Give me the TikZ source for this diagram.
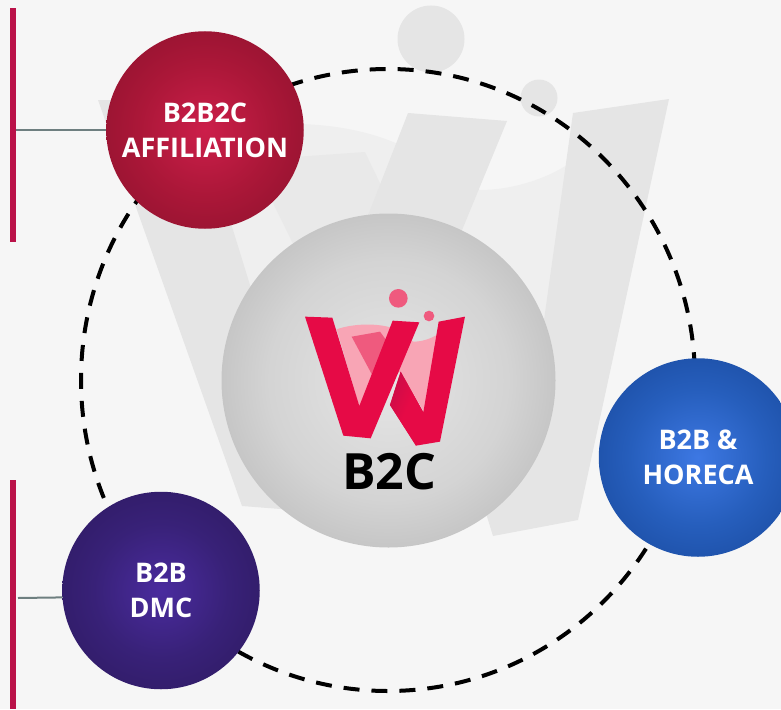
\documentclass[tikz,border=0pt]{standalone}
\usepackage{fontspec}
\setmainfont{Open Sans}
\pgfdeclareradialshading{redball}{\pgfpoint{0bp}{0bp}}{rgb(0bp)=(.80,.12,.29);rgb(17bp)=(.67,.09,.22);rgb(33bp)=(.56,.07,.18);rgb(50bp)=(.56,.07,.18)}
\pgfdeclareradialshading{blueball}{\pgfpoint{0bp}{0bp}}{rgb(0bp)=(.24,.47,.89);rgb(17bp)=(.15,.37,.74);rgb(33bp)=(.10,.29,.62);rgb(50bp)=(.10,.29,.62)}
\pgfdeclareradialshading{purpleball}{\pgfpoint{0bp}{0bp}}{rgb(0bp)=(.29,.17,.62);rgb(17bp)=(.22,.13,.47);rgb(33bp)=(.18,.10,.38);rgb(50bp)=(.18,.10,.38)}
\pgfdeclareradialshading{greyball}{\pgfpoint{0bp}{0bp}}{rgb(0bp)=(.90,.90,.90);rgb(18bp)=(.83,.83,.83);rgb(35bp)=(.70,.70,.70);rgb(50bp)=(.70,.70,.70)}
\pgfdeclareverticalshading{darkfade}{100bp}{rgb(0bp)=(.902,.039,.275);rgb(50bp)=(.902,.039,.275);rgb(80bp)=(.682,.059,.282);rgb(100bp)=(.682,.059,.282)}
\definecolor{bgc}{HTML}{F6F6F6}
\definecolor{barc}{HTML}{BA1249}
\definecolor{linkc}{HTML}{6E7F80}
\definecolor{wm}{HTML}{E5E5E5}
\definecolor{wmlight}{HTML}{EFEFEF}
\definecolor{wmmid}{HTML}{E9E9E9}
\definecolor{logo}{HTML}{E60A46}
\definecolor{logolight}{HTML}{F8A5B5}
\definecolor{logomid}{HTML}{EF5A7E}
\tikzset{
  ball/.style={circle,inner sep=0pt,minimum size=#1,text=white,align=center,
    font=\fontsize{27}{35}\selectfont\bfseries},
  ring/.style={draw=black,line width=4pt,dash pattern=on 16pt off 12pt,dash phase=18pt},
  bar/.style={fill=barc,draw=none},
  link/.style={draw=linkc,line width=2pt}
}
\begin{document}
\begin{tikzpicture}[x=1pt,y=-1pt]
\useasboundingbox (0,0) rectangle (781,709);
\fill[bgc] (0,0) rectangle (781,709);
\fill[white,opacity=.06] (390,340) circle[radius=340];
% watermark
\fill[wmlight] (215,132) .. controls (280,118) and (350,122) .. (400,145) -- (480,190) .. controls (510,190) and (545,180) .. (570,163) -- (540,420) -- (260,420) -- cycle;
\fill[wmmid] (252,160) -- (365,152) -- (400,225) -- (340,340) -- cycle;
\fill[wm] (98,100) -- (193,100) -- (290,415) -- (408,113) -- (507,121) -- (345,514) -- (242,506) -- cycle;
\fill[wm] (573,113) -- (669,99) -- (578,520) -- (493,536) -- (420,300) -- (530,420) -- cycle;
\fill[wm] (431,39) circle[radius=33.5];
\fill[wm] (539,98) circle[radius=18.5];
% ring
\draw[ring] (388,380) ellipse[x radius=307,y radius=311];
% bars
\fill[bar] (10,8) rectangle (16,242);
\fill[bar] (10,480) rectangle (16,709);
\coordinate (linkA) at (16,130);
\coordinate (linkB) at (18,598);
% centre
\node[circle,inner sep=0pt,minimum size=334pt,shading=greyball] (centre) at (388.5,380.5) {};
% logo
\begin{scope}[shift={(280,270)},x=.3333pt,y=-.3333pt]
\fill[logolight] (170,178) .. controls (220,160) and (290,160) .. (330,172) -- (400,215) .. controls (425,215) and (450,207) .. (470,195) -- (435,430) -- (360,305) -- (238,410) -- cycle;
\fill[logomid] (215,200) -- (300,185) -- (322,215) -- (275,312) -- cycle;
\fill[logo] (476,155) -- (555,140) -- (480,515) -- (408,527) -- (330,405) -- (362,305) -- (430,427) -- cycle;
\begin{scope}
\clip (362,305) -- (430,427) -- (408,527) -- (330,405) -- cycle;
\shade[shading=darkfade,shading angle=67] (260,295) rectangle (500,535);
\end{scope}
\fill[logo] (75,140) -- (157,143) -- (238,408) -- (338,152) -- (418,157) -- (272,505) -- (190,497) -- cycle;
\fill[logomid] (355,85) circle[radius=28];
\fill[logomid] (447,138) circle[radius=16];
\end{scope}
\node[text=black,font=\fontsize{50}{50}\selectfont\bfseries,inner sep=0pt] (b2c) at (389,472) {B2C};
% outer balls
\node[ball=197.5pt,shading=redball] (aff) at (205,130) {B2B2C\\AFFILIATION};
\node[ball=198.5pt,shading=blueball] (hor) at (698,457.5) {B2B \&\\HORECA};
\node[ball=197.5pt,shading=purpleball] (dmc) at (161,590.5) {B2B\\DMC};
\draw[link] (linkA) -- (aff.west);
\draw[link] (linkB) -- (dmc.184);
\end{tikzpicture}
\end{document}
